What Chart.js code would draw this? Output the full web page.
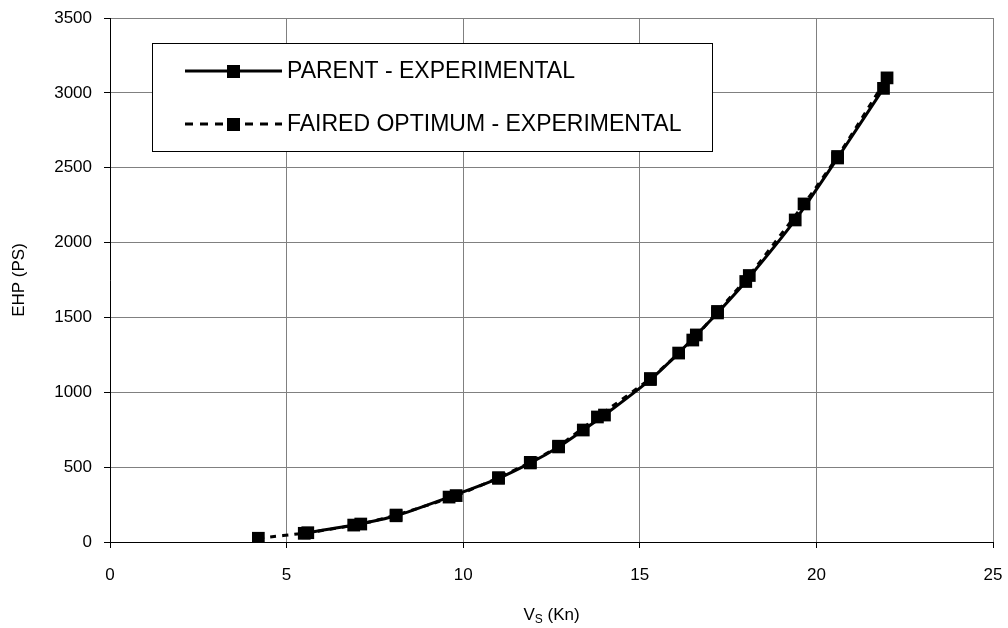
<!DOCTYPE html>
<html>
<head>
<meta charset="utf-8">
<script src="https://cdn.jsdelivr.net/npm/chart.js@4/dist/chart.umd.min.js"></script>
<style>
  html, body { margin: 0; padding: 0; background: #fff; }
  #wrap { width: 1008px; height: 628px; }
</style>
</head>
<body>
<div id="wrap"><canvas id="ehpChart" width="1008" height="628"></canvas></div>
<script>
// tốc độ tàu (knot) và công suất kéo EHP (PS) - tàu mẹ
const parentSpeed = [5.5, 6.9, 8.1, 9.6, 11.0, 11.9, 12.7, 13.4, 14.0, 15.3, 16.1, 16.6, 17.2, 18.0, 19.4, 20.6, 21.9];
const parentEhp   = [58, 113, 175, 300, 425, 528, 635, 748, 848, 1085, 1262, 1383, 1530, 1740, 2151, 2565, 3030];

// tốc độ và EHP - phương án tối ưu đã làm trơn
const fairedSpeed = [4.2, 5.6, 7.1, 8.1, 9.8, 11.0, 11.9, 12.7, 13.8, 15.3, 16.5, 17.2, 18.1, 19.65, 20.6, 22.0];
const fairedEhp   = [25, 62, 120, 180, 310, 430, 532, 640, 835, 1092, 1349, 1540, 1780, 2258, 2575, 3100];

const seriesLabels = ['PARENT - EXPERIMENTAL', 'FAIRED OPTIMUM - EXPERIMENTAL'];
const xTicks = [0, 5, 10, 15, 20, 25];
const yTicks = [0, 500, 1000, 1500, 2000, 2500, 3000, 3500];

const FONT = 'Arial, "Liberation Sans", sans-serif';

function toPoints(xs, ys) {
    return xs.map((x, i) => ({ x: x, y: ys[i] }));
}

// bỏ phần đệm tự động của nhãn đầu/cuối để vùng vẽ cố định
function noEdgePadding(scale) {
    scale.paddingLeft = 0;
    scale.paddingRight = 0;
    scale.paddingTop = 0;
    scale.paddingBottom = 0;
}

// vẽ khung chú thích, tiêu đề trục (có chỉ số dưới V_S)
const decorPlugin = {
    id: 'decor',
    afterDraw(chart) {
        const ctx = chart.ctx;
        const area = chart.chartArea;
        ctx.save();

        // tiêu đề trục y
        ctx.fillStyle = '#000';
        ctx.font = '17px ' + FONT;
        ctx.textAlign = 'center';
        ctx.textBaseline = 'middle';
        ctx.translate(19, (area.top + area.bottom) / 2);
        ctx.rotate(-Math.PI / 2);
        ctx.fillText('EHP (PS)', 0, 0);
        ctx.setTransform(1, 0, 0, 1, 0, 0);

        // tiêu đề trục x: V + chỉ số S + (Kn)
        const cx = (area.left + area.right) / 2;
        const ty = 614;
        ctx.textAlign = 'left';
        ctx.textBaseline = 'alphabetic';
        ctx.font = '17px ' + FONT;
        const wV = ctx.measureText('V').width;
        const wRest = ctx.measureText(' (Kn)').width;
        ctx.font = '12px ' + FONT;
        const wS = ctx.measureText('S').width;
        let x0 = cx - (wV + wS + wRest) / 2;
        ctx.font = '17px ' + FONT;
        ctx.fillText('V', x0, ty + 6);
        ctx.font = '12px ' + FONT;
        ctx.fillText('S', x0 + wV, ty + 9);
        ctx.font = '17px ' + FONT;
        ctx.fillText(' (Kn)', x0 + wV + wS, ty + 6);

        // khung chú thích
        const bx = 152, by = 43, bw = 560, bh = 108;
        ctx.fillStyle = '#fff';
        ctx.fillRect(bx, by, bw, bh);
        ctx.strokeStyle = '#000';
        ctx.lineWidth = 1;
        ctx.strokeRect(bx + 0.5, by + 0.5, bw, bh);

        const rows = [71, 124];
        chart.data.datasets.forEach((ds, i) => {
            const y = rows[i];
            ctx.strokeStyle = '#000';
            ctx.lineWidth = 3;
            ctx.setLineDash(ds.borderDash ? [8, 7] : []);
            ctx.beginPath();
            ctx.moveTo(185, y);
            ctx.lineTo(282, y);
            ctx.stroke();
            ctx.setLineDash([]);
            ctx.fillStyle = '#000';
            ctx.fillRect(227, y - 6, 13, 13);
            ctx.font = '23px ' + FONT;
            ctx.textBaseline = 'middle';
            ctx.textAlign = 'left';
            ctx.fillText(ds.label, 287, y + 1);
        });
        ctx.restore();
    }
};

const data = {
    datasets: [
        {
            label: seriesLabels[0],
            data: toPoints(parentSpeed, parentEhp),
            borderColor: '#000',
            backgroundColor: '#000',
            borderWidth: 3,
            pointStyle: 'rect',
            pointRadius: 9,
            pointBorderWidth: 0,
            tension: 0.2,
            order: 2
        },
        {
            label: seriesLabels[1],
            data: toPoints(fairedSpeed, fairedEhp),
            borderColor: '#000',
            backgroundColor: '#000',
            borderWidth: 3,
            borderDash: [6, 6],
            pointStyle: 'rect',
            pointRadius: 9,
            pointBorderWidth: 0,
            tension: 0.2,
            order: 1
        }
    ]
};

const config = {
    type: 'line',
    data: data,
    options: {
        responsive: false,
        animation: false,
        events: [],
        layout: { padding: { left: 0, top: 18, right: 15, bottom: 0 } },
        plugins: {
            legend: { display: false },
            tooltip: { enabled: false }
        },
        scales: {
            x: {
                type: 'linear',
                min: 0,
                max: 25,
                afterBuildTicks(scale) { scale.ticks = xTicks.map(v => ({ value: v })); },
                afterFit(scale) { scale.height = 86; noEdgePadding(scale); },
                ticks: { color: '#000', font: { family: FONT, size: 17 }, padding: 17, maxRotation: 0,
                         callback: v => String(v) },
                grid: { color: '#808080', lineWidth: 1, tickLength: 6, tickColor: '#000' },
                border: { color: '#000', width: 1 }
            },
            y: {
                type: 'linear',
                min: 0,
                max: 3500,
                afterBuildTicks(scale) { scale.ticks = yTicks.map(v => ({ value: v })); },
                afterFit(scale) { scale.width = 110; noEdgePadding(scale); },
                ticks: { color: '#000', font: { family: FONT, size: 17 }, padding: 12,
                         callback: v => String(v) },
                grid: { color: '#808080', lineWidth: 1, tickLength: 6, tickColor: '#000' },
                border: { color: '#000', width: 1 }
            }
        }
    },
    plugins: [decorPlugin]
};

new Chart(document.getElementById('ehpChart'), config);
</script>
</body>
</html>
